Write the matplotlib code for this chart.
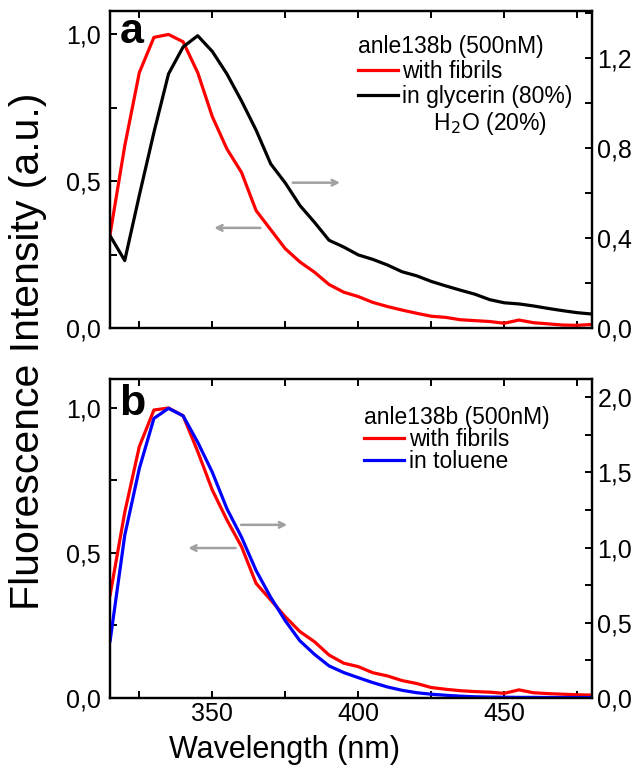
import matplotlib
matplotlib.use('Agg')
import matplotlib.pyplot as plt
from matplotlib.lines import Line2D
from matplotlib.ticker import MultipleLocator, FuncFormatter

plt.rcParams['font.family'] = ['Liberation Sans', 'DejaVu Sans']

# longitud de onda (nm)
wl = [315, 320, 325, 330, 335, 340, 345, 350, 355, 360, 365, 370, 375, 380,
      385, 390, 395, 400, 405, 410, 415, 420, 425, 430, 435, 440, 445, 450,
      455, 460, 465, 470, 475, 480]

# panel a
a_fibrils = [0.32, 0.62, 0.87, 0.99, 1.00, 0.975, 0.87, 0.72, 0.61, 0.53, 0.40,
             0.335, 0.27, 0.225, 0.19, 0.148, 0.122, 0.107, 0.087, 0.073, 0.061,
             0.050, 0.040, 0.036, 0.028, 0.025, 0.022, 0.016, 0.027, 0.018,
             0.014, 0.010, 0.009, 0.012]
a_glycerin = [0.41, 0.30, 0.59, 0.87, 1.13, 1.25, 1.30, 1.23, 1.13, 1.01, 0.88,
              0.73, 0.645, 0.545, 0.47, 0.39, 0.36, 0.325, 0.305, 0.28, 0.25,
              0.232, 0.207, 0.187, 0.168, 0.15, 0.126, 0.112, 0.107, 0.098,
              0.087, 0.077, 0.068, 0.062]

# panel b
b_fibrils = [0.355, 0.64, 0.867, 0.993, 1.00, 0.973, 0.85, 0.717, 0.614, 0.522,
             0.395, 0.338, 0.28, 0.229, 0.194, 0.148, 0.12, 0.108, 0.087, 0.076,
             0.060, 0.050, 0.036, 0.030, 0.025, 0.022, 0.020, 0.016, 0.028,
             0.018, 0.015, 0.013, 0.011, 0.010]
b_toluene = [0.38, 1.08, 1.525, 1.858, 1.925, 1.875, 1.70, 1.50, 1.258, 1.069,
             0.847, 0.669, 0.513, 0.38, 0.29, 0.213, 0.169, 0.135, 0.102, 0.073,
             0.051, 0.035, 0.025, 0.018, 0.012, 0.008, 0.006, 0.005, 0.004,
             0.004, 0.003, 0.003, 0.003, 0.003]

coma = FuncFormatter(lambda v, p: f'{v:.1f}'.replace('.', ','))

fig = plt.figure(figsize=(6.44, 7.67), dpi=100)
ax1 = fig.add_axes([0.171, 0.5724, 0.748, 0.4133])
ax2 = fig.add_axes([0.171, 0.0900, 0.748, 0.4159])


def estilo(ax, axr, xlabels):
    ax.set_xlim(315, 480)
    ax.xaxis.set_major_locator(MultipleLocator(50))
    ax.xaxis.set_minor_locator(MultipleLocator(25))
    for a in (ax, axr):
        for s in a.spines.values():
            s.set_linewidth(1.6)
    ax.tick_params(axis='x', which='both', direction='in', top=True,
                   length=5, width=1.4, labelsize=18, pad=3,
                   labelbottom=xlabels)
    ax.tick_params(axis='y', which='both', direction='in', length=5,
                   width=1.4, labelsize=18, pad=7)
    axr.tick_params(axis='y', which='both', direction='in', length=5,
                    width=1.4, labelsize=18, pad=4)
    ax.yaxis.set_major_formatter(coma)
    axr.yaxis.set_major_formatter(coma)


# ---- panel a ----
ax1r = ax1.twinx()
ax1.plot(wl, a_fibrils, color='#ff0000', lw=2.3)
ax1r.plot(wl, a_glycerin, color='black', lw=2.3)
ax1.set_ylim(0, 1.08)
ax1r.set_ylim(0, 1.41)
ax1.yaxis.set_major_locator(MultipleLocator(0.5))
ax1.yaxis.set_minor_locator(MultipleLocator(0.25))
ax1r.yaxis.set_major_locator(MultipleLocator(0.4))
ax1r.yaxis.set_minor_locator(MultipleLocator(0.2))
estilo(ax1, ax1r, False)
ax1.text(0.019, 0.899, 'a', transform=ax1.transAxes, fontsize=31,
         fontweight='bold', va='baseline')
flecha = dict(arrowstyle='->', color='#a0a0a0', lw=1.8)
ax1.annotate('', xy=(349.7, 0.341), xytext=(367.4, 0.341), arrowprops=flecha)
ax1.annotate('', xy=(394.7, 0.495), xytext=(376.6, 0.495), arrowprops=flecha)

h_a = [Line2D([], [], color='#ff0000', lw=2.3),
       Line2D([], [], color='black', lw=2.3),
       Line2D([], [], color='none')]
ax1r.legend(h_a, ['with fibrils', 'in glycerin (80%)', '     H$_2$O (20%)'],
            title='anle138b (500nM)', loc='upper left',
            bbox_to_anchor=(0.514, 0.923), frameon=False, borderpad=0,
            borderaxespad=0, fontsize=16.5, title_fontsize=16.5,
            alignment='left', handlelength=1.75, handletextpad=0.2,
            labelspacing=0.08)

# ---- panel b ----
ax2r = ax2.twinx()
ax2.plot(wl, b_fibrils, color='#ff0000', lw=2.3)
ax2r.plot(wl, b_toluene, color='#0000ff', lw=2.3)
ax2.set_ylim(0, 1.10)
ax2r.set_ylim(0, 2.12)
ax2.yaxis.set_major_locator(MultipleLocator(0.5))
ax2.yaxis.set_minor_locator(MultipleLocator(0.25))
ax2r.yaxis.set_major_locator(MultipleLocator(0.5))
ax2r.yaxis.set_minor_locator(MultipleLocator(0.25))
estilo(ax2, ax2r, True)
ax2.text(0.019, 0.887, 'b', transform=ax2.transAxes, fontsize=31,
         fontweight='bold', va='baseline')
ax2.annotate('', xy=(340.8, 0.517), xytext=(358.9, 0.517), arrowprops=flecha)
ax2.annotate('', xy=(376.6, 0.597), xytext=(358.9, 0.597), arrowprops=flecha)

h_b = [Line2D([], [], color='#ff0000', lw=2.3),
       Line2D([], [], color='#0000ff', lw=2.3)]
ax2r.legend(h_b, ['with fibrils', 'in toluene'],
            title='anle138b (500nM)', loc='upper left',
            bbox_to_anchor=(0.526, 0.915), frameon=False, borderpad=0,
            borderaxespad=0, fontsize=16.5, title_fontsize=16.5,
            alignment='left', handlelength=1.75, handletextpad=0.25,
            labelspacing=-0.05)

fig.text(0.0435, 0.542, 'Fluorescence Intensity (a.u.)', rotation=90,
         ha='center', va='center', fontsize=29.5)
fig.text(0.4425, 0.0117, 'Wavelength (nm)', ha='center', va='baseline',
         fontsize=22)

fig.savefig('out.png', dpi=100)
